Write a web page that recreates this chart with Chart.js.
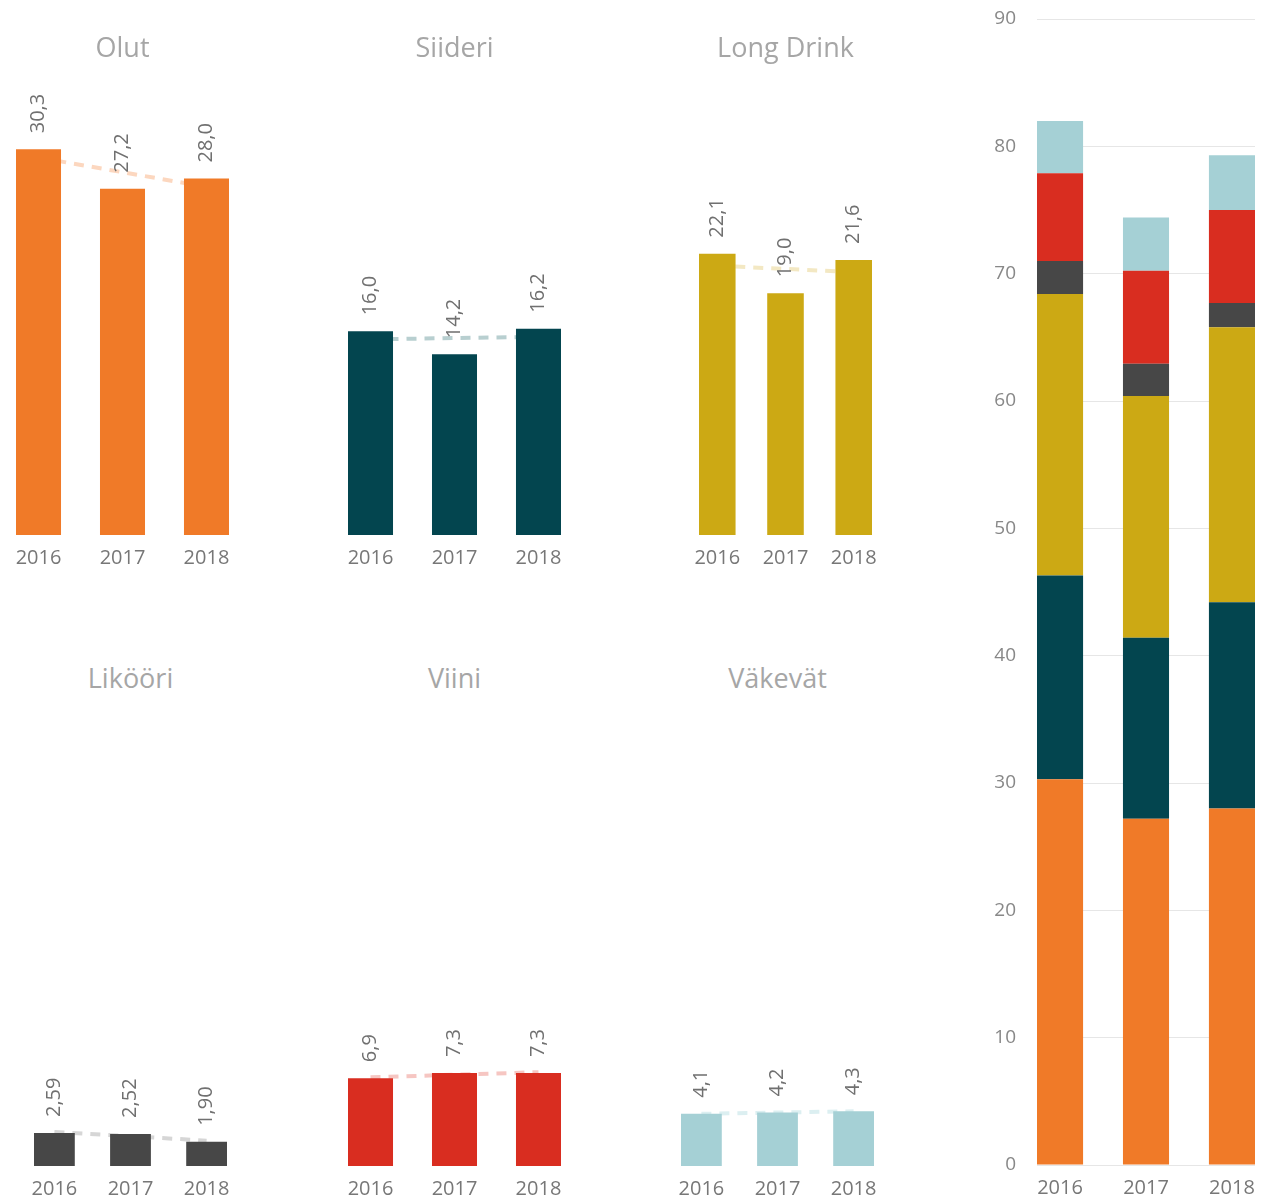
<!DOCTYPE html>
<html>
<head>
<meta charset="utf-8">
<script src="https://cdn.jsdelivr.net/npm/chart.js@4.4.1/dist/chart.umd.min.js"></script>
<style>
  body { margin: 0; background: #fff; width: 1261px; height: 1201px; position: relative; overflow: hidden; font-family: "Open Sans", sans-serif; }
  .box { position: absolute; }
  .title { position: absolute; color: #a6a6a6; font-size: 27px; transform: translate(-50%, -50%); white-space: nowrap; }
</style>
</head>
<body>
<script>
// --- data ---
const years = ["2016", "2017", "2018"];
const olut = [30.3, 27.2, 28.0];
const siideri = [16.0, 14.2, 16.2];
const longDrink = [22.1, 19.0, 21.6];
const likoori = [2.59, 2.52, 1.90];
const viini = [6.9, 7.3, 7.3];
const vakevat = [4.1, 4.2, 4.3];

// dashed trend lines
const olutTrend = [29.65, 28.5, 27.35];
const siideriTrend = [15.37, 15.47, 15.57];
const longDrinkTrend = [21.15, 20.9, 20.65];
const likooriTrend = [2.68, 2.34, 1.99];
const viiniTrend = [6.97, 7.17, 7.37];
const vakevatTrend = [4.1, 4.2, 4.3];

const totalTicks = [0, 10, 20, 30, 40, 50, 60, 70, 80, 90];

// --- look ---
const colors = {
  olut: "#F07A28", siideri: "#03454F", longDrink: "#CCA914",
  likoori: "#474747", viini: "#D92D20", vakevat: "#A5D0D5"
};
const trendColors = {
  olut: "#FCD7BF", siideri: "#B8CFD0", longDrink: "#F3E8C3",
  likoori: "#D6D6D6", viini: "#F6C6C2", vakevat: "#DCEFF1"
};
const PX_PER_UNIT = 12.73;
const X_MIN = -0.268, X_MAX = 2.268;
const AXIS_H = 35;
Chart.defaults.font.family = '"Open Sans", sans-serif';

const pts = (arr) => arr.map((v, i) => ({ x: i, y: v }));
const fmt = (v, d) => v.toFixed(d).replace(".", ",");

const valueLabels = {
  id: "valueLabels",
  afterDatasetsDraw(chart, args, opts) {
    const ctx = chart.ctx;
    const meta = chart.getDatasetMeta(0);
    const ds = chart.data.datasets[0];
    ctx.save();
    ctx.fillStyle = "#707070";
    ctx.font = '20px "Open Sans", sans-serif';
    ctx.textAlign = "left";
    ctx.textBaseline = "middle";
    meta.data.forEach((bar, i) => {
      ctx.save();
      ctx.translate(bar.x, bar.y - 16);
      ctx.rotate(-Math.PI / 2);
      ctx.fillText(fmt(ds.data[i].y, opts.decimals), 0, 0);
      ctx.restore();
    });
    ctx.restore();
  }
};

function xScale() {
  return {
    type: "linear", min: X_MIN, max: X_MAX, offset: false,
    afterBuildTicks: (axis) => { axis.ticks = years.map((y, i) => ({ value: i })); },
    // keep the plot edge to edge: no extra room for the labels
    afterFit: (scale) => { scale.paddingLeft = 0; scale.paddingRight = 0; scale.height = AXIS_H; },
    ticks: { callback: (v) => years[v], color: "#777", font: { size: 20 }, padding: 11, maxRotation: 0, autoSkip: false },
    grid: { display: false, drawTicks: false, offset: false },
    border: { display: false }
  };
}

function addBox(left, top, width, height) {
  const div = document.createElement("div");
  div.className = "box";
  div.style.cssText = `left:${left}px;top:${top}px;width:${width}px;height:${height}px`;
  const cv = document.createElement("canvas");
  cv.width = width; cv.height = height;
  div.appendChild(cv);
  document.body.appendChild(div);
  return cv;
}

function addTitle(text, cx, cy) {
  const t = document.createElement("div");
  t.className = "title";
  t.textContent = text;
  t.style.left = cx + "px";
  t.style.top = cy + "px";
  document.body.appendChild(t);
}

// small panels: plot left, plot width, plot top, plot bottom
const panels = [
  { name: "Olut", key: "olut", data: olut, trend: olutTrend, dec: 1, left: 16, width: 213, top: 60, bottom: 535, titleY: 46 },
  { name: "Siideri", key: "siideri", data: siideri, trend: siideriTrend, dec: 1, left: 348, width: 213, top: 60, bottom: 535, titleY: 46 },
  { name: "Long Drink", key: "longDrink", data: longDrink, trend: longDrinkTrend, dec: 1, left: 699, width: 173, top: 60, bottom: 535, titleY: 46 },
  { name: "Likööri", key: "likoori", data: likoori, trend: likooriTrend, dec: 2, left: 34, width: 193, top: 700, bottom: 1166, titleY: 677 },
  { name: "Viini", key: "viini", data: viini, trend: viiniTrend, dec: 1, left: 348, width: 213, top: 700, bottom: 1166, titleY: 677 },
  { name: "Väkevät", key: "vakevat", data: vakevat, trend: vakevatTrend, dec: 1, left: 681, width: 193, top: 700, bottom: 1166, titleY: 677 }
];

panels.forEach((p) => {
  const plotH = p.bottom - p.top;
  const cv = addBox(p.left - 10, p.top, p.width + 20, plotH + AXIS_H);
  addTitle(p.name, p.left + p.width / 2, p.titleY);
  new Chart(cv, {
    type: "bar",
    data: {
      datasets: [
        { type: "bar", data: pts(p.data), backgroundColor: colors[p.key], barPercentage: 0.536, categoryPercentage: 1, order: 1 },
        { type: "line", data: pts(p.trend), borderColor: trendColors[p.key], borderWidth: 4, borderDash: [10, 8], pointRadius: 0, fill: false, order: 2 }
      ]
    },
    options: {
      responsive: false, animation: false, devicePixelRatio: 1,
      layout: { padding: { left: 10, right: 10, top: 0, bottom: 0 } },
      plugins: { legend: { display: false }, tooltip: { enabled: false }, valueLabels: { decimals: p.dec } },
      scales: {
        x: xScale(),
        y: { display: false, min: 0, max: plotH / PX_PER_UNIT }
      }
    },
    plugins: [valueLabels]
  });
});

// stacked total chart on the right
const stackOrder = [
  ["olut", olut], ["siideri", siideri], ["longDrink", longDrink],
  ["likoori", likoori], ["viini", viini], ["vakevat", vakevat]
];
const cvTotal = addBox(980, 0, 281, 1165 + AXIS_H);
new Chart(cvTotal, {
  type: "bar",
  data: {
    datasets: stackOrder.map(([key, arr]) => ({
      data: pts(arr), backgroundColor: colors[key], barPercentage: 0.536, categoryPercentage: 1, stack: "s"
    }))
  },
  options: {
    responsive: false, animation: false, devicePixelRatio: 1,
    layout: { padding: { left: 0, right: 6, top: 19, bottom: 0 } },
    plugins: { legend: { display: false }, tooltip: { enabled: false } },
    scales: {
      x: Object.assign(xScale(), { stacked: true }),
      y: {
        stacked: true, min: 0, max: 90,
        afterBuildTicks: (axis) => { axis.ticks = totalTicks.map((v) => ({ value: v })); },
        afterFit: (scale) => { scale.width = 57; scale.paddingTop = 0; scale.paddingBottom = 0; },
        ticks: { color: "#888", font: { size: 19 }, padding: 21 },
        grid: { color: "#E6E6E6", drawTicks: false },
        border: { display: false }
      }
    }
  }
});
</script>
</body>
</html>
